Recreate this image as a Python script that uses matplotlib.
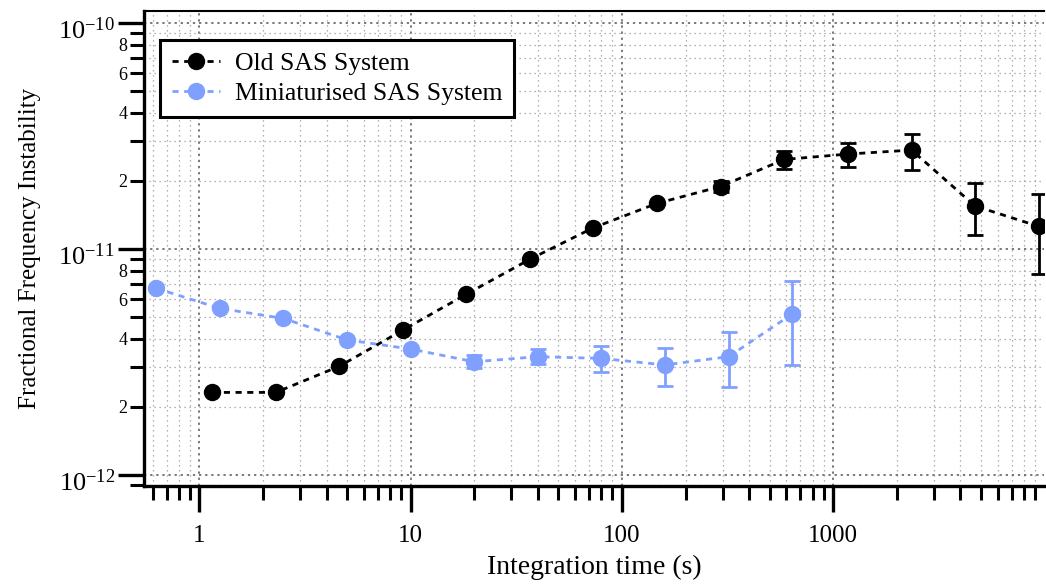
import numpy as np
import matplotlib
matplotlib.use("Agg")
import matplotlib.pyplot as plt
import matplotlib.transforms as mtransforms
from matplotlib.lines import Line2D
from matplotlib.ticker import FixedLocator, FuncFormatter, NullFormatter

plt.rcParams['font.family'] = ['Liberation Serif', 'DejaVu Serif']
plt.rcParams['mathtext.fontset'] = 'custom'
plt.rcParams['mathtext.rm'] = 'Liberation Serif'
plt.rcParams['mathtext.it'] = 'Liberation Serif:italic'

# old SAS system
tau_old = [1.15, 2.3, 4.6, 9.2, 18.3, 36.6, 73, 146, 293, 586, 1170, 2350, 4690, 9370]
adev_old = [2.32e-12, 2.32e-12, 3.03e-12, 4.38e-12, 6.30e-12, 9.0e-12, 1.24e-11, 1.59e-11,
            1.89e-11, 2.49e-11, 2.63e-11, 2.74e-11, 1.55e-11, 1.26e-11]
old_hi = [2.32e-12, 2.32e-12, 3.03e-12, 4.38e-12, 6.30e-12, 9.0e-12, 1.24e-11, 1.59e-11,
          1.99e-11, 2.72e-11, 2.95e-11, 3.23e-11, 1.96e-11, 1.75e-11]
old_lo = [2.32e-12, 2.32e-12, 3.03e-12, 4.38e-12, 6.30e-12, 9.0e-12, 1.24e-11, 1.59e-11,
          1.79e-11, 2.27e-11, 2.30e-11, 2.24e-11, 1.15e-11, 7.75e-12]

# miniaturised SAS system
tau_new = [0.625, 1.25, 2.5, 5, 10, 20, 40, 80, 160, 320, 640]
adev_new = [6.70e-12, 5.46e-12, 4.93e-12, 3.96e-12, 3.61e-12, 3.17e-12, 3.34e-12, 3.28e-12,
            3.07e-12, 3.34e-12, 5.16e-12]
new_hi = [6.70e-12, 5.46e-12, 4.93e-12, 3.96e-12, 3.61e-12, 3.40e-12, 3.62e-12, 3.72e-12,
          3.64e-12, 4.28e-12, 7.24e-12]
new_lo = [6.70e-12, 5.46e-12, 4.93e-12, 3.96e-12, 3.61e-12, 2.97e-12, 3.09e-12, 2.85e-12,
          2.48e-12, 2.44e-12, 3.07e-12]

blue = '#7FA0FF'
xlim = (0.547, 9950)
ylim = (8.94e-13, 1.13e-10)

fig = plt.figure(figsize=(10.46, 5.85), dpi=100)
ax = fig.add_axes([0.1377, 0.1692, 0.8604, 0.812])

def err(y, hi, lo):
    y = np.array(y)
    return [y - np.array(lo), np.array(hi) - y]

dash = (0, (2.2, 2.0))
ax.errorbar(tau_old, adev_old, yerr=err(adev_old, old_hi, old_lo), color='black', ls=dash,
            lw=2.0, marker='o', ms=11.5, capsize=6, capthick=2, elinewidth=2, zorder=4)
ax.errorbar(tau_new, adev_new, yerr=err(adev_new, new_hi, new_lo), color=blue, ls=dash,
            lw=2.0, marker='o', ms=11.5, capsize=6, capthick=2, elinewidth=2, zorder=3)

ax.set_xscale('log')
ax.set_yscale('log')
ax.set_xlim(*xlim)
ax.set_ylim(*ylim)

def log_ticks(lo, hi, subs):
    out = []
    for e in range(-14, 6):
        for s in subs:
            v = s * 10.0 ** e
            if lo <= v <= hi:
                out.append(v)
    return out

ax.xaxis.set_major_locator(FixedLocator(log_ticks(*xlim, [1])))
ax.xaxis.set_minor_locator(FixedLocator(log_ticks(*xlim, range(2, 10))))
ax.xaxis.set_major_formatter(FuncFormatter(lambda v, p: '%d' % round(v)))
ax.xaxis.set_minor_formatter(NullFormatter())

ax.yaxis.set_major_locator(FixedLocator(log_ticks(*ylim, [1])))
ax.yaxis.set_minor_locator(FixedLocator(log_ticks(*ylim, range(2, 10))))
ax.yaxis.set_major_formatter(FuncFormatter(lambda v, p: r'$10^{%d}$' % round(np.log10(v))))

def minor_lab(v, p):
    m = int(round(v / 10 ** np.floor(np.log10(v) + 1e-9)))
    return str(m) if m in (2, 4, 6, 8) else ''
ax.yaxis.set_minor_formatter(FuncFormatter(minor_lab))

ax.tick_params(which='major', direction='out', length=19, width=2.4)
ax.tick_params(which='minor', direction='out', length=10, width=2.2)
ax.tick_params(axis='y', which='major', labelsize=19, pad=2)
ax.tick_params(axis='y', which='minor', labelsize=13, pad=2)
ax.tick_params(axis='x', which='major', labelsize=18, pad=9)

# push the 10^n labels down a bit so the exponent sits at the tick
shift = mtransforms.ScaledTranslation(0, -5 / 100, fig.dpi_scale_trans)
for lab in ax.yaxis.get_majorticklabels():
    lab.set_transform(lab.get_transform() + shift)

ax.grid(True, which='major', ls=(0, (1.5, 2.5)), color='#555555', lw=1.1)
ax.grid(True, which='minor', ls=(0, (1, 3)), color='#999999', lw=0.9)
ax.set_axisbelow(True)

for s in ['left', 'bottom']:
    ax.spines[s].set_linewidth(2.4)
ax.spines['top'].set_linewidth(1.5)
ax.spines['right'].set_visible(False)

ax.set_xlabel('Integration time (s)', fontsize=20, labelpad=6)
ax.set_ylabel('Fractional Frequency Instability', fontsize=18, labelpad=12)

handles = [Line2D([], [], color='black', ls=dash, lw=2.0, marker='o', ms=11.5),
           Line2D([], [], color=blue, ls=dash, lw=2.0, marker='o', ms=11.5)]
leg = ax.legend(handles, ['Old SAS System', 'Miniaturised SAS System'], loc='upper left',
                bbox_to_anchor=(0.0178, 0.939), fontsize=18.5, frameon=True, fancybox=False,
                edgecolor='black', framealpha=1, borderpad=0.45, handlelength=1.9,
                handletextpad=0.55, labelspacing=0.3, borderaxespad=0)
leg.get_frame().set_linewidth(2.2)

fig.savefig('out.png', dpi=100)
